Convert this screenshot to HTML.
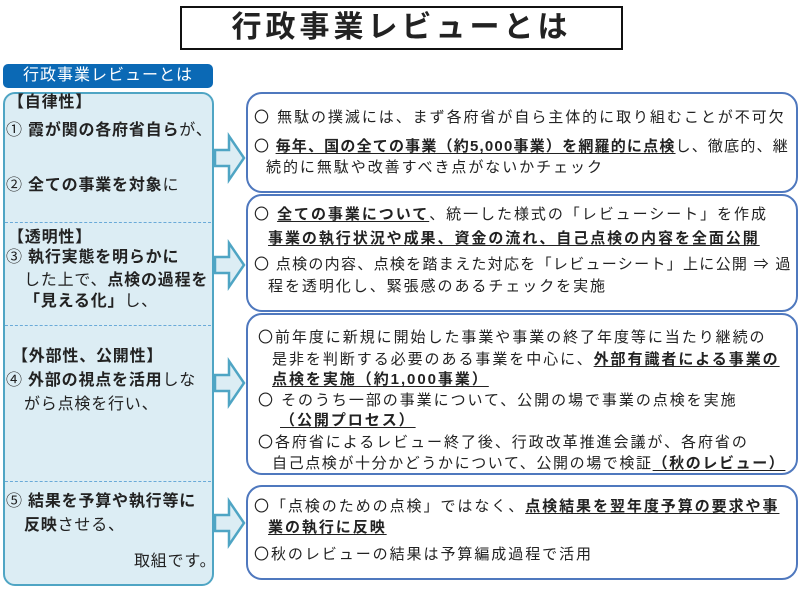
<!DOCTYPE html>
<html><head><meta charset="utf-8"><style>
body{margin:0;width:800px;height:600px;background:#fff;position:relative;overflow:hidden;font-family:"Liberation Sans","Noto Sans CJK JP",sans-serif;color:#222}
.a{position:absolute;white-space:nowrap;line-height:20px}
.r{font-size:15px;letter-spacing:1.95px}
.l{font-size:16px;letter-spacing:0.8px}
b{font-weight:bold}
u{text-decoration:underline;text-underline-offset:2px}
.box{position:absolute;left:246px;width:548px;border:2px solid #4f78be;border-radius:16px;background:#fff}
.dash{position:absolute;left:5px;width:206px;border-top:1px dashed #6aaad8}
</style></head><body>
<div style="position:absolute;left:180px;top:6px;width:439px;height:40px;border:2px solid #111;text-align:center;font-size:30px;font-weight:bold;line-height:40px;letter-spacing:4px">行政事業レビューとは</div>
<div style="position:absolute;left:3px;top:64px;width:210px;height:24px;background:#0b69b5;border-radius:5px;color:#fff;font-size:16px;line-height:24px;text-align:center;letter-spacing:1px">行政事業レビューとは</div>
<div style="position:absolute;left:3px;top:92px;width:207px;height:490px;background:#dcedf4;border:2px solid #4fa5c4;border-radius:12px"></div>
<div class="dash" style="top:222px"></div>
<div class="dash" style="top:325px"></div>
<div class="dash" style="top:481px"></div>
<svg style="position:absolute;left:0;top:0" width="800" height="600">
<g fill="#dcedf4" stroke="#4fa5c4" stroke-width="2.5">
<path d="M215 150h14v-14l15 22-15 22v-14h-14z"/>
<path d="M215 257h14v-14l15 22-15 22v-14h-14z"/>
<path d="M215 375h14v-14l15 22-15 22v-14h-14z"/>
<path d="M215 515h14v-14l15 22-15 22v-14h-14z"/>
</g></svg>
<div class="box" style="top:92px;height:97px"></div>
<div class="box" style="top:194px;height:114px"></div>
<div class="box" style="top:313px;height:158px"></div>
<div class="box" style="top:485px;height:91px"></div>

<div class="a l" style="left:8px;top:93px"><b>【自律性】</b></div>
<div class="a l" style="left:6px;top:121px">① <b>霞が関の各府省自ら</b>が、</div>
<div class="a l" style="left:6px;top:176px">② <b>全ての事業を対象</b>に</div>
<div class="a l" style="left:8px;top:228px"><b>【透明性】</b></div>
<div class="a l" style="left:6px;top:248px">③ <b>執行実態を明らかに</b></div>
<div class="a l" style="left:24px;top:271px">した上で、<b>点検の過程を</b></div>
<div class="a l" style="left:24px;top:292px"><b>「見える化」</b>し、</div>
<div class="a l" style="left:12px;top:347px"><b>【外部性、公開性】</b></div>
<div class="a l" style="left:6px;top:371px">④ <b>外部の視点を活用</b>しな</div>
<div class="a l" style="left:24px;top:395px">がら点検を行い、</div>
<div class="a l" style="left:6px;top:492px">⑤ <b>結果を予算や執行等に</b></div>
<div class="a l" style="left:24px;top:516px"><b>反映</b>させる、</div>
<div class="a l" style="left:134px;top:552px">取組です。</div>

<div class="a r" style="left:254px;top:108px">〇 無駄の撲滅には、まず各府省が自ら主体的に取り組むことが不可欠</div>
<div class="a r" style="left:254px;top:137px;letter-spacing:1.2px">〇 <b><u>毎年、国の全ての事業（約5,000事業）を網羅的に点検</u></b>し、徹底的、継</div>
<div class="a r" style="left:266px;top:158px">続的に無駄や改善すべき点がないかチェック</div>
<div class="a r" style="left:254px;top:205px">〇 <b><u>全ての事業について</u></b>、統一した様式の「レビューシート」を作成</div>
<div class="a r" style="left:268px;top:229px"><b><u>事業の執行状況や成果、資金の流れ、自己点検の内容を全面公開</u></b></div>
<div class="a r" style="left:254px;top:255px;letter-spacing:1.3px">〇 点検の内容、点検を踏まえた対応を「レビューシート」上に公開 ⇒ 過</div>
<div class="a r" style="left:268px;top:277px">程を透明化し、緊張感のあるチェックを実施</div>
<div class="a r" style="left:258px;top:328px">〇前年度に新規に開始した事業や事業の終了年度等に当たり継続の</div>
<div class="a r" style="left:272px;top:350px">是非を判断する必要のある事業を中心に、<b><u>外部有識者による事業の</u></b></div>
<div class="a r" style="left:272px;top:370px"><b><u>点検を実施（約1,000事業）</u></b></div>
<div class="a r" style="left:258px;top:391px">〇 そのうち一部の事業について、公開の場で事業の点検を実施</div>
<div class="a r" style="left:280px;top:411px"><b><u>（公開プロセス）</u></b></div>
<div class="a r" style="left:258px;top:433px">〇各府省によるレビュー終了後、行政改革推進会議が、各府省の</div>
<div class="a r" style="left:272px;top:454px;letter-spacing:1.6px">自己点検が十分かどうかについて、公開の場で検証<b><u>（秋のレビュー）</u></b></div>
<div class="a r" style="left:254px;top:497px">〇「点検のための点検」ではなく、<b><u>点検結果を翌年度予算の要求や事</u></b></div>
<div class="a r" style="left:268px;top:518px"><b><u>業の執行に反映</u></b></div>
<div class="a r" style="left:254px;top:545px">〇秋のレビューの結果は予算編成過程で活用</div>
</body></html>
